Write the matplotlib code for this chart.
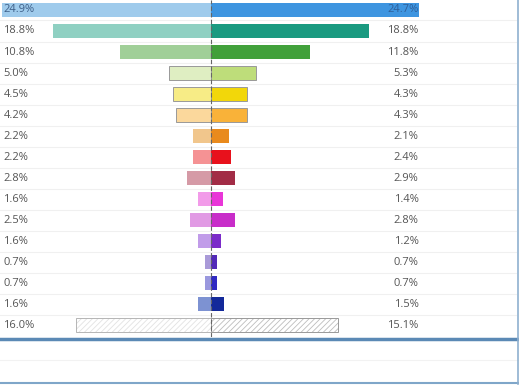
import matplotlib.pyplot as plt
from matplotlib.lines import Line2D

plt.rcParams['font.family'] = ['Open Sans', 'DejaVu Sans']
plt.rcParams['hatch.linewidth'] = 0.6

left_vals = [24.9, 18.8, 10.8, 5.0, 4.5, 4.2, 2.2, 2.2, 2.8, 1.6, 2.5, 1.6, 0.7, 0.7, 1.6, 16.0]
right_vals = [24.7, 18.8, 11.8, 5.3, 4.3, 4.3, 2.1, 2.4, 2.9, 1.4, 2.8, 1.2, 0.7, 0.7, 1.5, 15.1]
left_colors = ['#9fcbec', '#8fd0c2', '#a0cf98', '#dfeec2', '#f7ec86', '#fbd89c', '#f1c68c',
               '#f59294', '#d59aa6', '#f29be9', '#e19ae4', '#c19ce9', '#a99ad8', '#9a98de',
               '#7d92d2', 'white']
right_colors = ['#3e95e0', '#1a9a80', '#41a03a', '#bedd7a', '#f2d70a', '#f9b239', '#e98a1c',
                '#e8111c', '#a22c46', '#e936d8', '#c82dc9', '#7b2bc9', '#5229b8', '#3029c2',
                '#13299a', 'white']

fig = plt.figure(figsize=(5.19, 3.9), dpi=100)
ax = fig.add_axes([0, 53 / 390, 517 / 519, 337 / 390])

n = len(left_vals)
ys = list(range(n))
for i in ys[:-1]:
    ec = '#999999' if 3 <= i <= 5 else 'none'
    ax.barh(i, -left_vals[i], height=0.66, color=left_colors[i], edgecolor=ec, linewidth=0.7)
    ax.barh(i, right_vals[i], height=0.66, color=right_colors[i], edgecolor=ec, linewidth=0.7)

# "other" row: hatched
k = n - 1
ax.barh(k, -left_vals[k], height=0.66, color='white', edgecolor='#e2e2e2', linewidth=0, hatch='//////')
ax.barh(k, right_vals[k], height=0.66, color='white', edgecolor='#bdbdbd', linewidth=0, hatch='//////')
ax.barh(k, -left_vals[k], height=0.66, fill=False, edgecolor='#b5b5b5', linewidth=0.7)
ax.barh(k, right_vals[k], height=0.66, fill=False, edgecolor='#999999', linewidth=0.7)

xmin, xmax = -25.1, 36.4
ax.set_xlim(xmin, xmax)
ax.set_ylim(15.57, -0.476)

for i in ys:
    lc = '#3d5f88' if i == 0 else '#555555'
    rc = '#2f5f99' if i == 0 else '#555555'
    ax.text(xmin + 0.4, i, f'{left_vals[i]:.1f}%', ha='left', va='center',
            fontsize=8, color=lc)
    ax.text(24.7, i, f'{right_vals[i]:.1f}%', ha='right', va='center',
            fontsize=8, color=rc)

for i in range(n - 1):
    ax.axhline(i + 0.5, color='#f0f0f0', linewidth=0.8, zorder=0)

ax.axvline(0, color='#666666', linewidth=0.8, linestyle=(0, (4, 2)), zorder=3)

ax.set_xticks([])
ax.set_yticks([])
for s in ax.spines.values():
    s.set_visible(False)

# lower frame lines
fig.add_artist(Line2D([0, 1], [1 - 338.5 / 390] * 2, color='#5b89b5', linewidth=2.5))
fig.add_artist(Line2D([0, 1], [1 - 360 / 390] * 2, color='#f2f2f2', linewidth=0.8))
fig.add_artist(Line2D([0, 1], [1 - 383 / 390] * 2, color='#7fa6c9', linewidth=1.5))
fig.add_artist(Line2D([517.5 / 519] * 2, [1 - 384 / 390, 1], color='#8fb0cf', linewidth=1.2))

fig.savefig('out.png', dpi=100)
